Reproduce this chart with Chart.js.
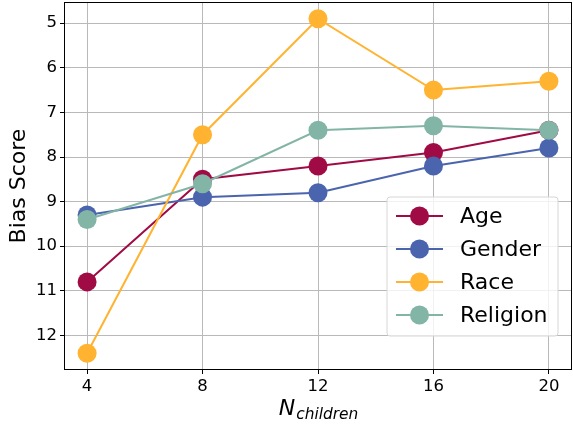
<!DOCTYPE html>
<html>
<head>
<meta charset="utf-8">
<script src="https://cdn.jsdelivr.net/npm/chart.js@4.4.0/dist/chart.umd.min.js"></script>
<style>
  html, body { margin: 0; padding: 0; background: #fff; }
</style>
</head>
<body>
<canvas id="chart" width="573" height="426"></canvas>
<script>
const nChildren = [4, 8, 12, 16, 20];
const age = [10.8, 8.5, 8.2, 7.9, 7.4];
const gender = [9.3, 8.9, 8.8, 8.2, 7.8];
const race = [12.4, 7.5, 4.9, 6.5, 6.3];
const religion = [9.4, 8.6, 7.4, 7.3, 7.4];
const yTicks = [5, 6, 7, 8, 9, 10, 11, 12];

const names = ['Age', 'Gender', 'Race', 'Religion'];
const colors = ['#a00a45', '#4a64ae', '#ffb331', '#83b5a7'];
const values = [age, gender, race, religion];

const FONT = '"DejaVu Sans", sans-serif';

// later series go on top, like matplotlib
const datasets = values.map((vals, i) => ({
    label: names[i],
    data: vals.map((v, j) => ({ x: nChildren[j], y: v })),
    borderColor: colors[i],
    backgroundColor: colors[i],
    pointBackgroundColor: colors[i],
    pointBorderColor: colors[i],
    pointRadius: 9.5,
    pointBorderWidth: 0,
    borderWidth: 2,
    tension: 0,
    order: values.length - i
}));

const decor = {
    id: 'decor',
    afterDatasetsDraw(chart) {
        const ctx = chart.ctx;
        const a = chart.chartArea;
        ctx.save();
        // frame
        ctx.strokeStyle = '#000';
        ctx.lineWidth = 1;
        ctx.strokeRect(a.left + 0.5, a.top + 0.5, a.right - a.left - 1, a.bottom - a.top - 1);

        // y title
        ctx.fillStyle = '#000';
        ctx.font = '22px ' + FONT;
        ctx.textAlign = 'center';
        ctx.textBaseline = 'alphabetic';
        ctx.save();
        ctx.translate(25, (a.top + a.bottom) / 2);
        ctx.rotate(-Math.PI / 2);
        ctx.fillText('Bias Score', 0, 0);
        ctx.restore();

        // x title: italic N with subscript
        ctx.textAlign = 'left';
        ctx.font = 'italic 22px ' + FONT;
        const wN = ctx.measureText('N').width;
        ctx.font = 'italic 15.4px ' + FONT;
        const wSub = ctx.measureText('children').width;
        const x0 = (a.left + a.right) / 2 - (wN + wSub) / 2;
        ctx.font = 'italic 22px ' + FONT;
        ctx.fillText('N', x0, 415);
        ctx.font = 'italic 15.4px ' + FONT;
        ctx.fillText('children', x0 + wN + 1, 419);

        // legend
        const bx = 387, by = 197, bw = 171, bh = 139, r = 3;
        ctx.beginPath();
        ctx.moveTo(bx + r, by);
        ctx.arcTo(bx + bw, by, bx + bw, by + bh, r);
        ctx.arcTo(bx + bw, by + bh, bx, by + bh, r);
        ctx.arcTo(bx, by + bh, bx, by, r);
        ctx.arcTo(bx, by, bx + bw, by, r);
        ctx.closePath();
        ctx.fillStyle = 'rgba(255,255,255,0.8)';
        ctx.fill();
        ctx.strokeStyle = '#d6d6d6';
        ctx.stroke();

        ctx.font = '22px ' + FONT;
        ctx.textBaseline = 'middle';
        names.forEach((name, i) => {
            const y = 216 + i * 33;
            ctx.strokeStyle = colors[i];
            ctx.lineWidth = 2;
            ctx.beginPath();
            ctx.moveTo(396, y);
            ctx.lineTo(443, y);
            ctx.stroke();
            ctx.fillStyle = colors[i];
            ctx.beginPath();
            ctx.arc(419.5, y, 9.5, 0, Math.PI * 2);
            ctx.fill();
            ctx.fillStyle = '#000';
            ctx.fillText(name, 460, y + 1);
        });
        ctx.restore();
    }
};

new Chart(document.getElementById('chart'), {
    type: 'line',
    data: { datasets },
    options: {
        responsive: false,
        animation: false,
        devicePixelRatio: 1,
        layout: { autoPadding: false, padding: { top: 2, right: 1, left: 0, bottom: 0 } },
        plugins: { legend: { display: false }, tooltip: { enabled: false } },
        scales: {
            x: {
                type: 'linear',
                min: 3.2,
                max: 20.8,
                afterBuildTicks: axis => { axis.ticks = nChildren.map(v => ({ value: v })); },
                afterFit: axis => { axis.height = 56; axis.paddingLeft = 0; axis.paddingRight = 0; },
                grid: { color: '#b9b9b9', lineWidth: 1, tickColor: '#000', tickLength: 4 },
                border: { display: false },
                ticks: { color: '#000', font: { family: FONT, size: 16.5 }, padding: 3, maxRotation: 0 }
            },
            y: {
                type: 'linear',
                reverse: true,
                min: 4.525,
                max: 12.775,
                afterBuildTicks: axis => { axis.ticks = yTicks.map(v => ({ value: v })); },
                afterFit: axis => { axis.width = 64; axis.paddingTop = 0; axis.paddingBottom = 0; },
                grid: { color: '#b9b9b9', lineWidth: 1, tickColor: '#000', tickLength: 4 },
                border: { display: false },
                ticks: { color: '#000', font: { family: FONT, size: 16.5 }, padding: 3 }
            }
        }
    },
    plugins: [decor]
});
</script>
</body>
</html>
